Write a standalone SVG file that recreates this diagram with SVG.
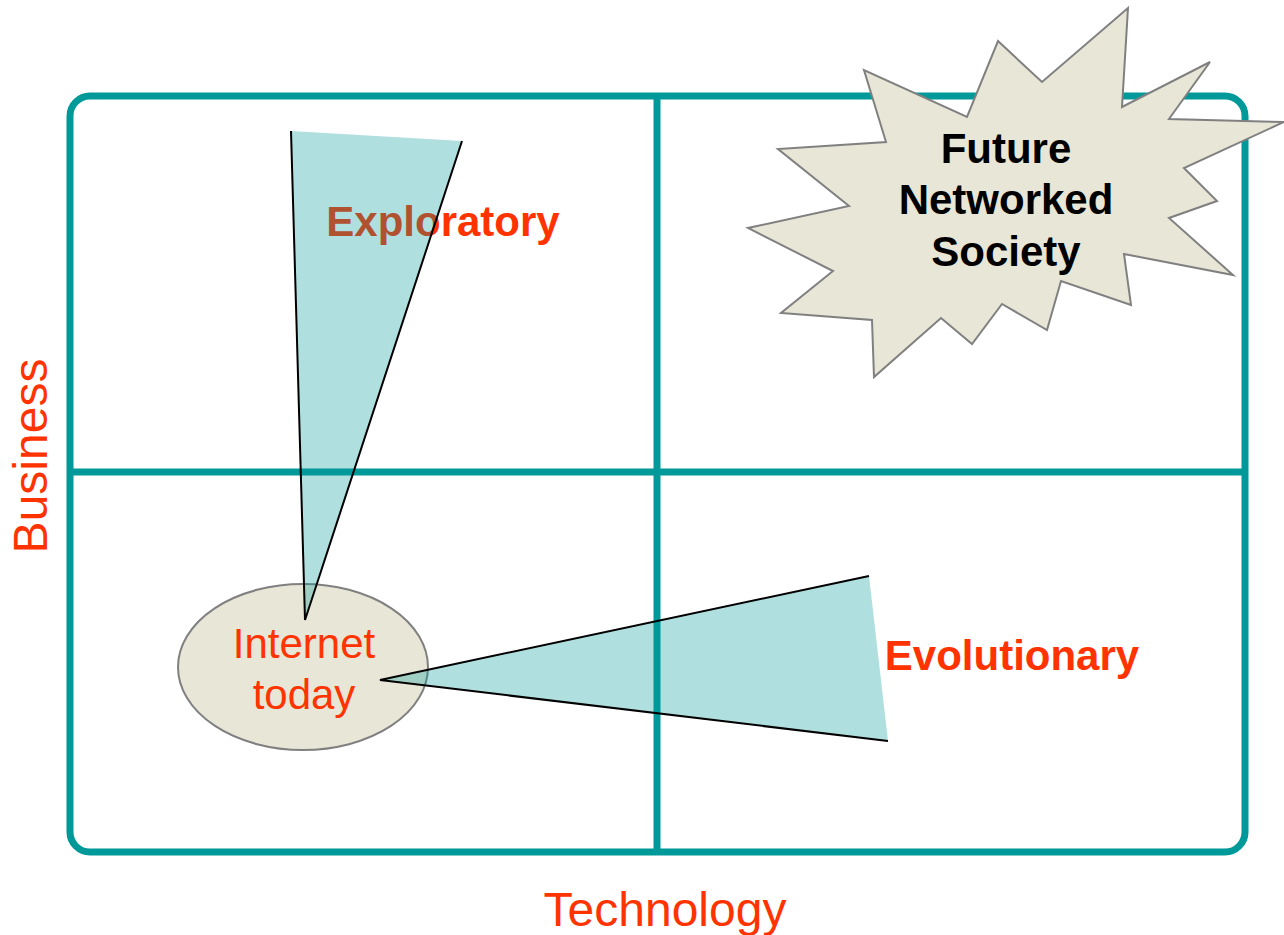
<svg xmlns="http://www.w3.org/2000/svg" width="1284" height="935" viewBox="0 0 1284 935">
<style>
.grid{fill:none;stroke:#009999;stroke-width:7}
.shape{fill:#E8E6D6;stroke:#808080;stroke-width:2}
.wedge{fill:#009999;fill-opacity:0.31;stroke:none}
.edge{fill:none;stroke:#000;stroke-width:2}
.lbl{font-family:"Liberation Sans",Arial,sans-serif;font-size:42px;text-anchor:middle}
.bold{font-weight:bold}
.red{fill:#FF3300}
.blk{fill:#000}
.axis{font-family:"Liberation Sans",Arial,sans-serif;font-size:48px;text-anchor:middle;fill:#FF3300}
</style>
<rect width="1284" height="935" fill="#fff"/>
<g id="grid">
<rect class="grid" x="70" y="96" width="1175" height="756" rx="20"/>
<line class="grid" x1="657" y1="96" x2="657" y2="852"/>
<line class="grid" x1="70" y1="472" x2="1245" y2="472"/>
</g>
<g id="future">
<polygon class="shape" points="1128,8 1122,107 1210,62 1169,119 1284,122 1184,168 1217,201 1169,218 1233,275 1124,254 1131,305 1061,281 1047,330 1002,304 972,344 941,318 874,377 872,320 781,313 833,271 748,228 849,206 778,149 886,142 864,70 967,117 998,41 1042,82"/>
<text class="lbl bold blk" x="1006" y="163">Future</text>
<text class="lbl bold blk" x="1006" y="214">Networked</text>
<text class="lbl bold blk" x="1006" y="266">Society</text>
</g>
<g id="internet">
<ellipse class="shape" cx="303" cy="667" rx="125" ry="83"/>
<text class="lbl red" x="304" y="658">Internet</text>
<text class="lbl red" x="304" y="709">today</text>
</g>
<g id="labels">
<text class="lbl bold red" x="443" y="236">Exploratory</text>
<text class="lbl bold red" x="1012" y="670">Evolutionary</text>
<text class="axis" x="665" y="926">Technology</text>
<text class="axis" transform="translate(47,456) rotate(-90)">Business</text>
</g>
<g id="connectors">
<polygon class="wedge" points="291,131 462,141 305,620"/>
<polyline class="edge" points="291,131 305,620 462,141"/>
<polygon class="wedge" points="380,680 869,576 888,741"/>
<polyline class="edge" points="869,576 380,680 888,741"/>
</g>
</svg>
